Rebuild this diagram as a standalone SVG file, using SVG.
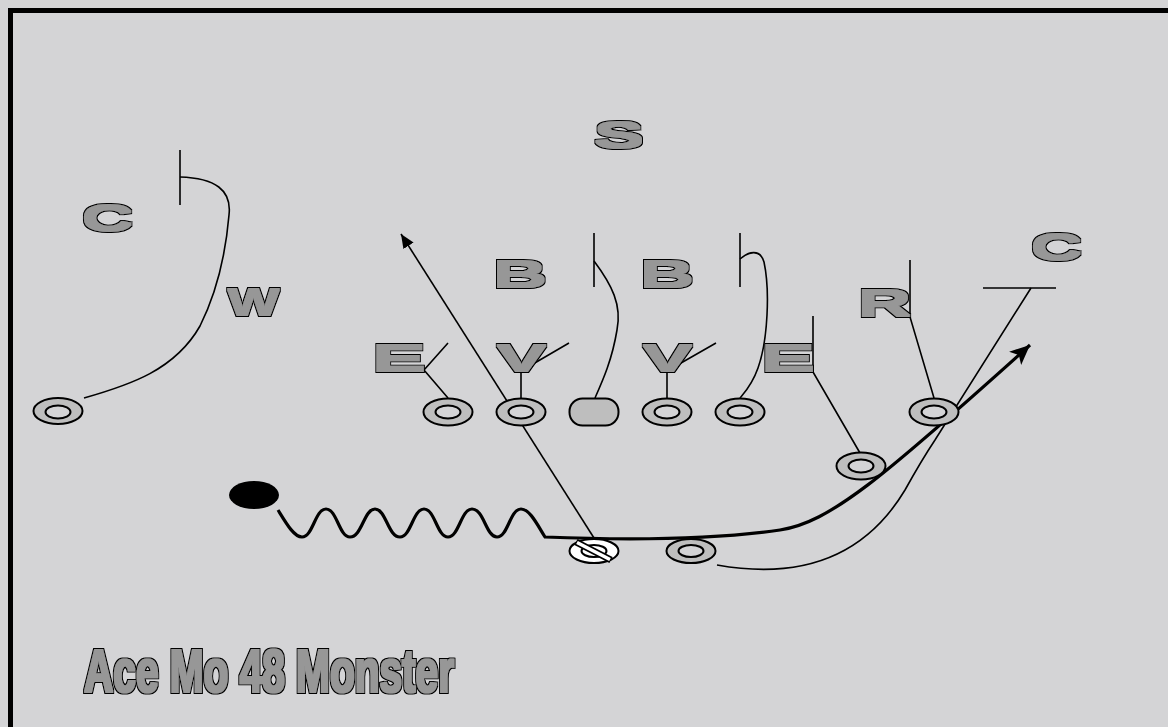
<svg xmlns="http://www.w3.org/2000/svg" width="1168" height="727" viewBox="0 0 1168 727">
<defs>
<style>
.lt{font-family:"Liberation Sans",Arial,sans-serif;font-weight:bold;font-size:36px;fill:#979797;filter:url(#heavy);}
.title{font-family:"Liberation Sans",Arial,sans-serif;font-weight:bold;font-size:62px;fill:#979797;filter:url(#heavyT);}
.po{fill:#bebebe;stroke:#000;stroke-width:2;}
.pi{fill:#d4d4d6;stroke:#000;stroke-width:2;}
.rt{fill:none;stroke:#000;stroke-width:1.6;}
.thick{fill:none;stroke:#000;stroke-width:3.2;}
</style>
<filter id="heavy" x="-20%" y="-20%" width="140%" height="140%">
<feMorphology in="SourceAlpha" operator="dilate" radius="0.7" result="a1"/>
<feMorphology in="SourceAlpha" operator="dilate" radius="2" result="a2"/>
<feFlood flood-color="#979797" result="g"/>
<feComposite in="g" in2="a1" operator="in" result="gf"/>
<feFlood flood-color="#000000" result="k"/>
<feComposite in="k" in2="a2" operator="in" result="bf"/>
<feMerge><feMergeNode in="bf"/><feMergeNode in="gf"/></feMerge>
</filter>
<filter id="heavyT" x="-5%" y="-20%" width="110%" height="140%">
<feMorphology in="SourceAlpha" operator="dilate" radius="0.6" result="a1"/>
<feMorphology in="SourceAlpha" operator="dilate" radius="2.1" result="a2"/>
<feFlood flood-color="#979797" result="g"/>
<feComposite in="g" in2="a1" operator="in" result="gf"/>
<feFlood flood-color="#000000" result="k"/>
<feComposite in="k" in2="a2" operator="in" result="bf"/>
<feMerge><feMergeNode in="bf"/><feMergeNode in="gf"/></feMerge>
</filter>
<marker id="ah" markerUnits="userSpaceOnUse" markerWidth="24" markerHeight="20" refX="20" refY="9" orient="auto" viewBox="0 0 24 20">
<path d="M0,0 L20,9 L0,18 L5,9 Z" fill="#000"/>
</marker>
<marker id="ahs" markerUnits="userSpaceOnUse" markerWidth="16" markerHeight="14" refX="14" refY="6" orient="auto" viewBox="0 0 16 14">
<path d="M0,0 L14,6 L0,12 Z" fill="#000"/>
</marker>
</defs>
<rect x="0" y="0" width="1168" height="727" fill="#d4d4d6"/>
<rect x="10.5" y="10.5" width="1300" height="900" fill="none" stroke="#000" stroke-width="5"/>

<g id="connectors">
<path class="rt" d="M180,150 L180,205"/>
<path class="rt" d="M180,177 C215,178 232,190 229,215 C226,250 218,290 200,326 C175,370 130,385 84,398"/>
<path class="rt" d="M594,233 L594,287"/>
<path class="rt" d="M594,261 C612,285 622,305 617,330 C612,360 603,380 595,398"/>
<path class="rt" d="M740,233 L740,287"/>
<path class="rt" d="M740,259 C748,252 760,248 764,262 C770,290 768,340 758,368 C752,385 745,392 740,398"/>
<path class="rt" d="M448,398 L424,370 L448,343"/>
<path class="rt" d="M521,398 L521,371 M521,371 L569,343"/>
<path class="rt" d="M667,398 L667,371 M667,371 L716,343"/>
<path class="rt" d="M813,316 L813,372 L860,453"/>
<path class="rt" d="M910,260 L910,317 L934,398"/>
<path class="rt" d="M983,288 L1056,288"/>
<path class="rt" d="M717,565 C790,578 860,565 905,490 C915,472 925,455 935,440 L1031,288"/>
<path class="rt" d="M594,538 L401,234" marker-end="url(#ahs)"/>
<path class="thick" d="M278,510 C286,523 294,537 302,537 C313,537 315,509 326,509 C337,509 339,537 350,537 C362,537 364,509 375,509 C386,509 388,537 400,537 C411,537 413,509 424,509 C435,509 437,537 448,537 C459,537 461,509 472,509 C484,509 486,537 497,537 C508,537 510,509 521,509 C530,509 538,526 545,537 C620,540 710,540 780,530 C830,522 880,480 1030,345" marker-end="url(#ah)"/>
</g>

<g id="ball"><ellipse cx="254" cy="495" rx="25" ry="14" fill="#000"/></g>

<g id="wr-left"><ellipse class="po" cx="58" cy="411" rx="24.5" ry="13"/><ellipse class="pi" cx="58" cy="412" rx="12.5" ry="6.5"/></g>
<g id="lt-left"><ellipse class="po" cx="448" cy="412" rx="24.5" ry="13.5"/><ellipse class="pi" cx="448" cy="412" rx="12.5" ry="6.5"/></g>
<g id="lg-left"><ellipse class="po" cx="521" cy="412" rx="24.5" ry="13.5"/><ellipse class="pi" cx="521" cy="412" rx="12.5" ry="6.5"/></g>
<g id="center"><rect class="po" x="569.5" y="398.5" width="49" height="27" rx="13" ry="13"/></g>
<g id="rg"><ellipse class="po" cx="667" cy="412" rx="24.5" ry="13.5"/><ellipse class="pi" cx="667" cy="412" rx="12.5" ry="6.5"/></g>
<g id="rt"><ellipse class="po" cx="740" cy="412" rx="24.5" ry="13.5"/><ellipse class="pi" cx="740" cy="412" rx="12.5" ry="6.5"/></g>
<g id="slot"><ellipse class="po" cx="934" cy="412" rx="24.5" ry="13.5"/><ellipse class="pi" cx="934" cy="412" rx="12.5" ry="6.5"/></g>
<g id="te"><ellipse class="po" cx="861" cy="466" rx="24.5" ry="13.5"/><ellipse class="pi" cx="861" cy="466" rx="12.5" ry="6.5"/></g>
<g id="rb"><ellipse class="po" cx="691" cy="551" rx="24.5" ry="12"/><ellipse class="pi" cx="691" cy="551" rx="12.5" ry="6"/></g>
<g id="qb">
<ellipse cx="594" cy="551" rx="24.5" ry="12" fill="#fff" stroke="#000" stroke-width="2"/>
<ellipse cx="594" cy="551" rx="12.5" ry="6" fill="#fff" stroke="#000" stroke-width="2"/>
<path d="M576,542 L611,560" stroke="#000" stroke-width="7" stroke-linecap="butt"/>
<path d="M577,542.5 L610,559.5" stroke="#fff" stroke-width="3.5" stroke-linecap="butt"/>
</g>

<g id="def-S"><text class="lt" x="594" y="148" textLength="50" lengthAdjust="spacingAndGlyphs">S</text></g>
<g id="def-C-left"><text class="lt" x="82" y="231" textLength="51" lengthAdjust="spacingAndGlyphs">C</text></g>
<g id="def-W"><text class="lt" x="228" y="315" textLength="51" lengthAdjust="spacingAndGlyphs">W</text></g>
<g id="def-B1"><text class="lt" x="493" y="287" textLength="54" lengthAdjust="spacingAndGlyphs">B</text></g>
<g id="def-B2"><text class="lt" x="640" y="287" textLength="54" lengthAdjust="spacingAndGlyphs">B</text></g>
<g id="def-E1"><text class="lt" x="372" y="371" textLength="54" lengthAdjust="spacingAndGlyphs">E</text></g>
<g id="def-V1"><text class="lt" x="497" y="371" textLength="49" lengthAdjust="spacingAndGlyphs">V</text></g>
<g id="def-V2"><text class="lt" x="643" y="371" textLength="49" lengthAdjust="spacingAndGlyphs">V</text></g>
<g id="def-E2"><text class="lt" x="761" y="371" textLength="54" lengthAdjust="spacingAndGlyphs">E</text></g>
<g id="def-R"><text class="lt" x="858" y="316" textLength="53" lengthAdjust="spacingAndGlyphs">R</text></g>
<g id="def-C-right"><text class="lt" x="1031" y="260" textLength="51" lengthAdjust="spacingAndGlyphs">C</text></g>

<g id="title"><text class="title" x="84" y="692" textLength="370" lengthAdjust="spacingAndGlyphs">Ace Mo 48 Monster</text></g>
</svg>
